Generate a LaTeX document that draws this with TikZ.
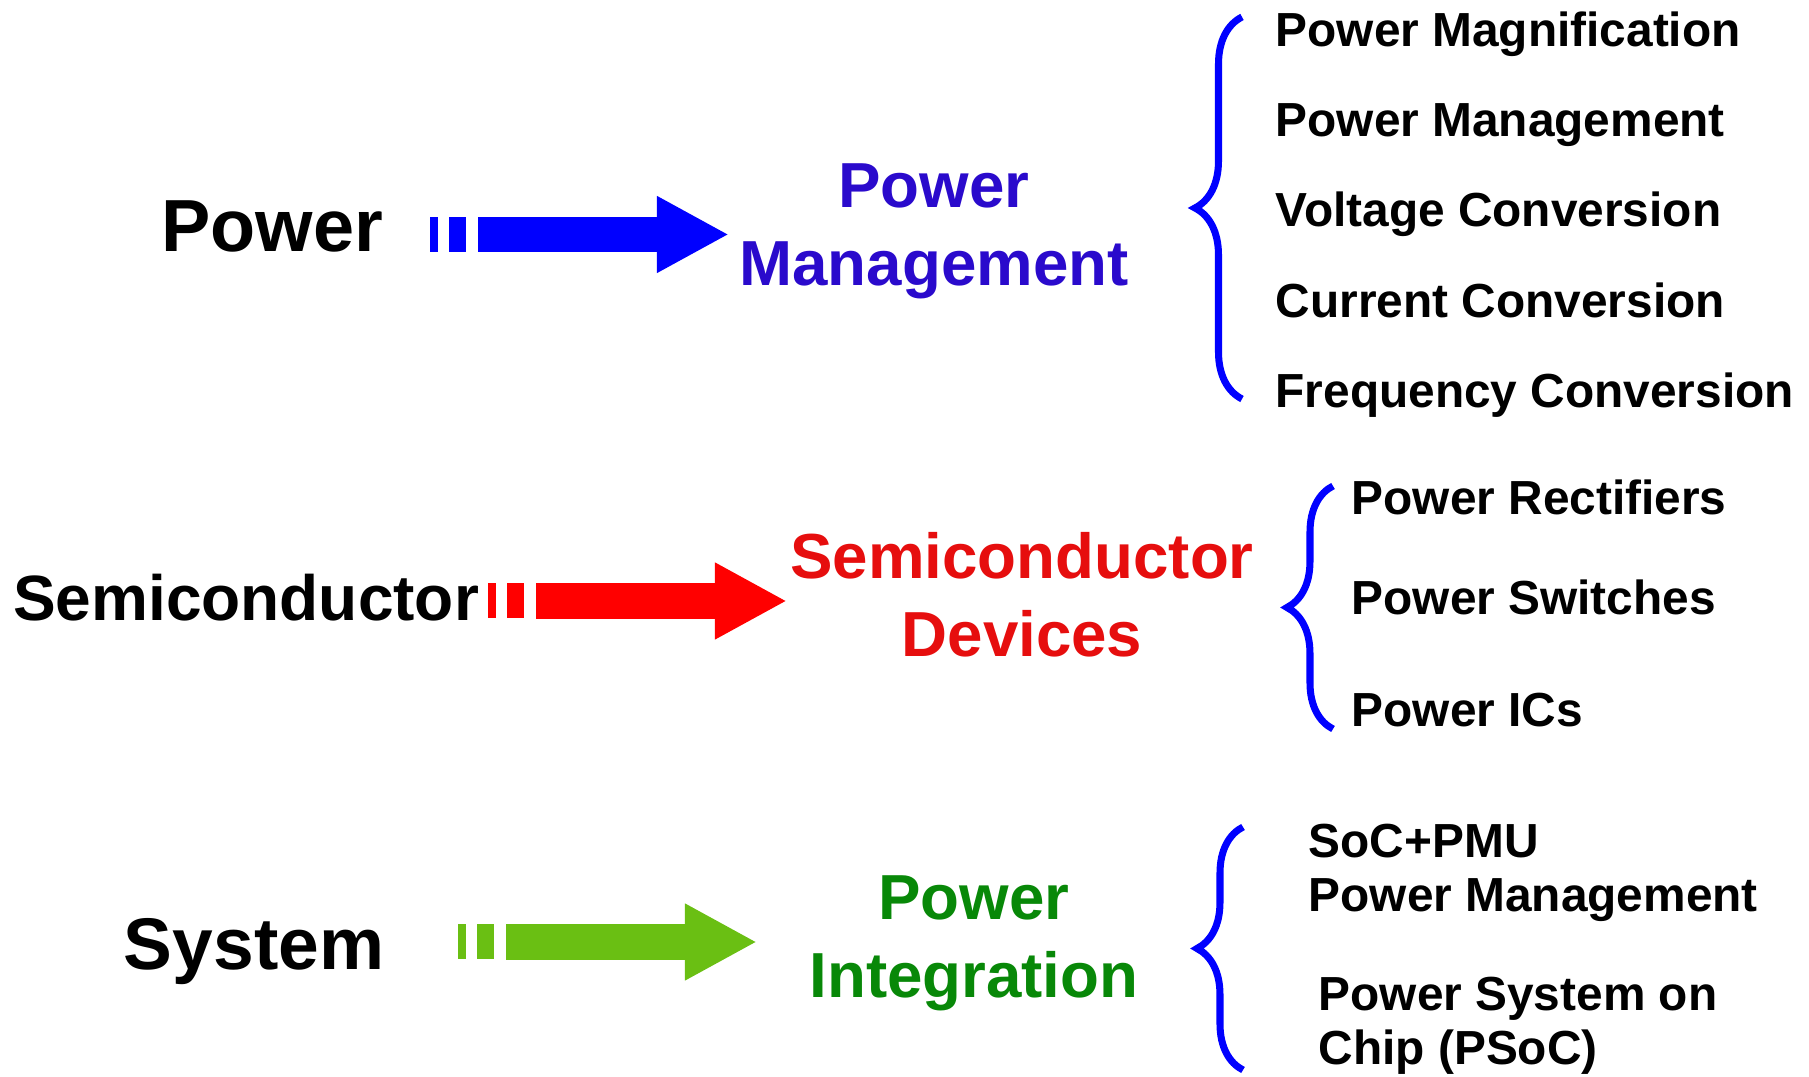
\documentclass[tikz,border=0pt]{standalone}
\usepackage{fontspec}
\setmainfont{Liberation Sans}
\usetikzlibrary{arrows.meta,decorations.pathreplacing}
\definecolor{c1}{HTML}{0000FF}
\definecolor{c2}{HTML}{FF0000}
\definecolor{c3}{HTML}{6ABF13}
\definecolor{t1}{HTML}{2A0ACC}
\definecolor{t2}{HTML}{E60E0E}
\definecolor{t3}{HTML}{088808}

\begin{document}
\begin{tikzpicture}[x=0.01cm, y=-0.01cm,
  src/.style={font=\bfseries\fontsize{#1}{25}\selectfont, inner sep=0pt, anchor=base},
  dst/.style={text=#1, font=\bfseries\fontsize{18.1}{22.2}\selectfont,
              align=center, inner sep=0pt, anchor=base},
  item/.style={font=\bfseries\fontsize{13.6}{15.6}\selectfont,
               align=left, inner sep=0pt, anchor=base west},
  curly/.style={draw=c1, line width=2pt, decorate,
                decoration={brace, amplitude=#1}},
]
  \useasboundingbox (0,0) rectangle (1809,1077);

  % sources
  \node[src=21]   (pw) at (272,252) {Power};
  \node[src=18.2] (sc) at (246,621) {Semiconductor};
  \node[src=20.8] (sy) at (254,970) {System};

  % targets
  \node[dst=t1] (pm) at (934,286)  {Power\\Management};
  \node[dst=t2] (sd) at (1022,657) {Semiconductor\\Devices};
  \node[dst=t3] (pi) at (974,998)  {Power\\Integration};

  % striped arrows
  \foreach \c/\x/\y/\n in {c1/430/234.5/1, c2/488/601/2, c3/458/942/3} {
    \fill[\c] (\x,\y-17.5) rectangle ++(8,35);
    \fill[\c] (\x+19,\y-17.5) rectangle ++(17,35);
    \coordinate (s\n) at (\x+48,\y);
    \coordinate (e\n) at (\x+299,\y);
    \draw[\c, line width=0.355cm, -{Triangle[length=0.72cm, width=0.715cm]}] (s\n) -- (e\n);
  }

  % braces
  \draw[curly=0.47cm] (1242,399) -- (1242,17);
  \draw[curly=0.46cm] (1333,729) -- (1333,486);
  \draw[curly=0.46cm] (1243,1070) -- (1243,827);

  % items
  \foreach \t/\y [count=\i] in {Power Magnification/47, Power Management/137,
      Voltage Conversion/227, Current Conversion/318, Frequency Conversion/408}
    \node[item] (m\i) at (1275,\y) {\t};
  \foreach \t/\y [count=\i] in {Power Rectifiers/515, Power Switches/615, Power ICs/727}
    \node[item] (d\i) at (1351,\y) {\t};
  \node[item] (i1) at (1308,912)  {SoC+PMU\\Power Management};
  \node[item] (i2) at (1318,1065) {Power System on\\Chip (PSoC)};
\end{tikzpicture}
\end{document}
